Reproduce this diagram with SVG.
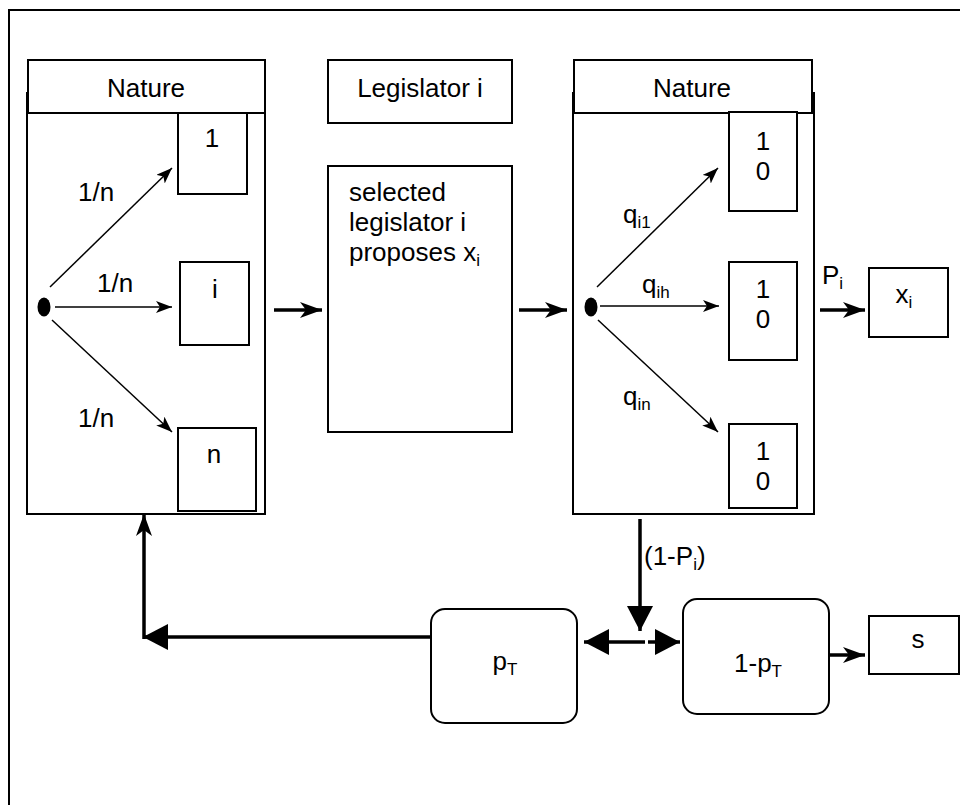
<svg xmlns="http://www.w3.org/2000/svg" width="960" height="805" viewBox="0 0 960 805">
<defs>
<style>
text{font-family:"Liberation Sans",Arial,sans-serif;font-size:26px;fill:#000}
.sub{font-size:17px}
.box{fill:#fff;stroke:#000;stroke-width:2}
.thin{fill:none;stroke:#000;stroke-width:1.5}
.thick{fill:none;stroke:#000;stroke-width:3.5}
</style>
<marker id="aThin" viewBox="0 0 16 12" refX="16" refY="6" markerWidth="16" markerHeight="12" markerUnits="userSpaceOnUse" orient="auto">
<path d="M0,0 L16,6 L0,12 L4,6 Z" fill="#000"/>
</marker>
<marker id="aThick" viewBox="0 0 22 16" refX="22" refY="8" markerWidth="22" markerHeight="16" markerUnits="userSpaceOnUse" orient="auto">
<path d="M0,0 L22,8 L0,16 L6,8 Z" fill="#000"/>
</marker>
<marker id="aBlock" viewBox="0 0 25 26" refX="25" refY="13" markerWidth="25" markerHeight="26" markerUnits="userSpaceOnUse" orient="auto">
<path d="M0,0 L25,13 L0,26 Z" fill="#000"/>
</marker>
</defs>
<rect width="960" height="805" fill="#fff"/>
<rect id="frame" x="9" y="10" width="970" height="820" fill="none" stroke="#000" stroke-width="2"/>

<g id="nature1">
<rect class="box" x="27" y="93" width="238" height="421"/>
<rect class="box" x="28" y="60" width="237" height="53"/>
<text x="146" y="97" text-anchor="middle">Nature</text>
</g>
<g id="n1box1"><rect class="box" x="178" y="113" width="69" height="81"/><text x="212" y="147" text-anchor="middle">1</text></g>
<g id="n1boxi"><rect class="box" x="180" y="262" width="69" height="83"/><text x="215" y="298" text-anchor="middle">i</text></g>
<g id="n1boxn"><rect class="box" x="178" y="428" width="78" height="83"/><text x="214" y="463" text-anchor="middle">n</text></g>
<g id="dot1"><ellipse cx="44" cy="307" rx="6.5" ry="9.5" fill="#000"/></g>

<g id="legislator">
<rect class="box" x="328" y="60" width="184" height="63"/>
<text x="420" y="97" text-anchor="middle">Legislator i</text>
</g>
<g id="proposal">
<rect class="box" x="328" y="166" width="184" height="266"/>
<text x="349" y="201">selected</text>
<text x="349" y="231">legislator i</text>
<text x="349" y="261">proposes x<tspan class="sub" dy="5">i</tspan></text>
</g>

<g id="nature2">
<rect class="box" x="573" y="93" width="241" height="421"/>
<rect class="box" x="574" y="60" width="238" height="53"/>
<text x="692" y="97" text-anchor="middle">Nature</text>
</g>
<g id="n2box1"><rect class="box" x="729" y="112" width="68" height="99"/><text x="763" y="150" text-anchor="middle">1</text><text x="763" y="180" text-anchor="middle">0</text></g>
<g id="n2box2"><rect class="box" x="729" y="262" width="68" height="98"/><text x="763" y="298" text-anchor="middle">1</text><text x="763" y="328" text-anchor="middle">0</text></g>
<g id="n2box3"><rect class="box" x="729" y="424" width="68" height="84"/><text x="763" y="460" text-anchor="middle">1</text><text x="763" y="490" text-anchor="middle">0</text></g>
<g id="dot2"><ellipse cx="591" cy="307" rx="6.5" ry="9.5" fill="#000"/></g>

<g id="xi"><rect class="box" x="869" y="268" width="79" height="69"/><text x="904" y="303" text-anchor="middle">x<tspan class="sub" dy="5">i</tspan></text></g>
<g id="pT"><rect class="box" x="431" y="609" width="146" height="114" rx="14"/><text x="505" y="670" text-anchor="middle">p<tspan class="sub" dy="5">T</tspan></text></g>
<g id="oneMinusPT"><rect class="box" x="683" y="599" width="146" height="115" rx="14"/><text x="758" y="672" text-anchor="middle">1-p<tspan class="sub" dy="5">T</tspan></text></g>
<g id="s"><rect class="box" x="869" y="616" width="90" height="58"/><text x="918" y="648" text-anchor="middle">s</text></g>

<g id="connectors">
<line class="thin" x1="50" y1="287" x2="172" y2="168" marker-end="url(#aThin)"/>
<line class="thin" x1="55" y1="307" x2="172" y2="307" marker-end="url(#aThin)"/>
<line class="thin" x1="52" y1="320" x2="172" y2="432" marker-end="url(#aThin)"/>
<line class="thin" x1="597" y1="287" x2="718" y2="168" marker-end="url(#aThin)"/>
<line class="thin" x1="600" y1="306" x2="719" y2="306" marker-end="url(#aThin)"/>
<line class="thin" x1="598" y1="320" x2="718" y2="432" marker-end="url(#aThin)"/>
<line class="thick" x1="274" y1="310" x2="322" y2="310" marker-end="url(#aThick)"/>
<line class="thick" x1="519" y1="310" x2="567" y2="310" marker-end="url(#aThick)"/>
<line class="thick" x1="820" y1="310" x2="865" y2="310" marker-end="url(#aThick)"/>
<line class="thick" x1="640" y1="519" x2="640" y2="631" marker-end="url(#aBlock)"/>
<line class="thick" x1="645" y1="642" x2="584" y2="642" marker-end="url(#aBlock)"/>
<line class="thick" x1="648" y1="642" x2="680" y2="642" marker-end="url(#aBlock)"/>
<line class="thick" x1="829" y1="655" x2="865" y2="655" marker-end="url(#aThick)"/>
<line class="thick" x1="431" y1="637" x2="143" y2="637" marker-end="url(#aBlock)"/>
<line class="thick" x1="144" y1="639" x2="144" y2="514" marker-end="url(#aThick)"/>
</g>

<g id="labels">
<text x="78" y="201">1/n</text>
<text x="97" y="292">1/n</text>
<text x="78" y="427">1/n</text>
<text x="623" y="223">q<tspan class="sub" dy="5">i1</tspan></text>
<text x="642" y="293">q<tspan class="sub" dy="5">ih</tspan></text>
<text x="623" y="405">q<tspan class="sub" dy="5">in</tspan></text>
<text x="822" y="284">P<tspan class="sub" dy="5">i</tspan></text>
<text x="644" y="565">(1-P<tspan class="sub" dy="5">i</tspan><tspan dy="-5">)</tspan></text>
</g>
</svg>
